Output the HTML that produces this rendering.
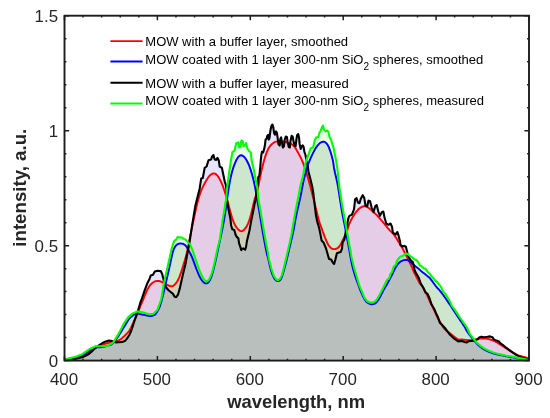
<!DOCTYPE html>
<html><head><meta charset="utf-8"><title>Spectra</title>
<style>html,body{margin:0;padding:0;background:#fff;}body{width:550px;height:418px;overflow:hidden;position:relative;}text{font-family:"Liberation Sans",Arial,Helvetica,sans-serif;}</style>
</head><body>
<svg width="550" height="418" viewBox="0 0 550 418" style="position:absolute;left:0;top:0">
<rect width="550" height="418" fill="#fff"/>
<path d="M64.0,359.7 L65.0,359.6 L66.0,359.5 L67.0,359.4 L68.0,359.3 L69.0,359.2 L70.0,359.1 L71.0,358.9 L72.0,358.7 L73.0,358.6 L74.0,358.4 L75.0,358.2 L76.0,357.9 L77.0,357.7 L78.0,357.4 L79.0,357.1 L80.0,356.8 L81.0,356.5 L82.0,356.2 L83.0,355.9 L84.0,355.5 L85.0,355.0 L86.0,354.5 L87.0,353.9 L88.0,353.3 L89.0,352.6 L90.0,351.8 L91.0,350.9 L92.0,350.0 L93.0,349.1 L94.0,348.4 L95.0,347.8 L96.0,347.3 L97.0,346.8 L98.0,346.3 L99.0,345.9 L100.0,345.5 L101.0,345.1 L102.0,344.7 L103.0,344.4 L104.0,344.1 L105.0,343.8 L106.0,343.5 L107.0,343.3 L108.0,343.0 L109.0,342.8 L110.0,342.6 L111.0,342.4 L112.0,342.2 L113.0,342.0 L114.0,341.8 L115.0,341.5 L116.0,341.3 L117.0,341.0 L118.0,340.6 L119.0,340.2 L120.0,339.7 L121.0,339.0 L122.0,338.2 L123.0,337.3 L124.0,336.4 L125.0,335.5 L126.0,334.5 L127.0,333.5 L128.0,332.3 L129.0,331.1 L130.0,329.5 L131.0,327.6 L132.0,325.4 L133.0,323.2 L134.0,321.0 L135.0,318.8 L136.0,316.6 L137.0,314.3 L138.0,311.9 L139.0,309.5 L140.0,307.1 L141.0,304.7 L142.0,302.3 L143.0,299.9 L144.0,297.5 L145.0,295.0 L146.0,292.7 L147.0,290.3 L148.0,288.4 L149.0,286.7 L150.0,285.3 L151.0,284.2 L152.0,283.2 L153.0,282.5 L154.0,281.9 L155.0,281.4 L156.0,281.1 L157.0,281.0 L158.0,281.0 L159.0,281.0 L160.0,281.3 L161.0,281.6 L162.0,282.1 L163.0,282.7 L164.0,283.3 L165.0,283.9 L166.0,284.4 L167.0,284.9 L168.0,285.3 L169.0,285.6 L170.0,286.0 L171.0,286.2 L172.0,286.3 L173.0,285.9 L174.0,285.3 L175.0,284.3 L176.0,283.2 L177.0,281.8 L178.0,280.0 L179.0,277.9 L180.0,275.4 L181.0,272.6 L182.0,269.6 L183.0,266.4 L184.0,263.1 L185.0,259.7 L186.0,256.1 L187.0,252.2 L188.0,247.6 L189.0,242.3 L190.0,237.0 L191.0,232.1 L192.0,227.3 L193.0,222.6 L194.0,218.0 L195.0,213.4 L196.0,208.9 L197.0,204.6 L198.0,200.6 L199.0,197.0 L200.0,193.9 L201.0,191.1 L202.0,188.7 L203.0,186.6 L204.0,184.6 L205.0,182.7 L206.0,180.9 L207.0,179.3 L208.0,177.8 L209.0,176.4 L210.0,175.3 L211.0,174.5 L212.0,173.9 L213.0,173.5 L214.0,173.4 L215.0,173.6 L216.0,174.2 L217.0,175.2 L218.0,176.4 L219.0,177.9 L220.0,179.7 L221.0,181.6 L222.0,184.0 L223.0,186.6 L224.0,189.5 L225.0,192.4 L226.0,195.6 L227.0,198.9 L228.0,202.7 L229.0,206.8 L230.0,210.6 L231.0,214.1 L232.0,217.5 L233.0,220.4 L234.0,222.8 L235.0,224.9 L236.0,226.6 L237.0,228.0 L238.0,229.2 L239.0,230.1 L240.0,230.8 L241.0,231.2 L242.0,231.1 L243.0,230.7 L244.0,229.8 L245.0,228.7 L246.0,227.4 L247.0,225.7 L248.0,223.6 L249.0,221.1 L250.0,218.1 L251.0,214.5 L252.0,210.5 L253.0,206.3 L254.0,201.7 L255.0,198.0 L256.0,195.8 L257.0,192.4 L258.0,187.8 L259.0,182.9 L260.0,177.8 L261.0,172.9 L262.0,168.4 L263.0,164.5 L264.0,160.7 L265.0,157.3 L266.0,154.3 L267.0,151.6 L268.0,149.4 L269.0,147.5 L270.0,146.1 L271.0,145.0 L272.0,144.0 L273.0,143.2 L274.0,142.5 L275.0,141.9 L276.0,141.6 L277.0,141.5 L278.0,141.4 L279.0,141.3 L280.0,141.3 L281.0,141.3 L282.0,141.4 L283.0,141.6 L284.0,141.8 L285.0,142.0 L286.0,142.2 L287.0,142.5 L288.0,142.8 L289.0,143.1 L290.0,143.5 L291.0,143.9 L292.0,144.5 L293.0,145.2 L294.0,146.2 L295.0,147.4 L296.0,148.9 L297.0,150.7 L298.0,152.5 L299.0,154.4 L300.0,156.3 L301.0,158.2 L302.0,160.3 L303.0,162.8 L304.0,165.5 L305.0,168.5 L306.0,171.5 L307.0,174.7 L308.0,178.0 L309.0,181.5 L310.0,185.2 L311.0,189.1 L312.0,192.9 L313.0,196.9 L314.0,200.8 L315.0,204.8 L316.0,208.9 L317.0,213.0 L318.0,217.0 L319.0,220.9 L320.0,223.9 L321.0,226.5 L322.0,229.2 L323.0,232.1 L324.0,234.8 L325.0,237.5 L326.0,239.9 L327.0,242.2 L328.0,244.2 L329.0,245.8 L330.0,247.0 L331.0,248.0 L332.0,248.6 L333.0,249.0 L334.0,249.1 L335.0,249.1 L336.0,248.8 L337.0,248.4 L338.0,247.7 L339.0,246.8 L340.0,245.5 L341.0,243.7 L342.0,241.7 L343.0,239.7 L344.0,237.7 L345.0,235.7 L346.0,233.8 L347.0,231.5 L348.0,227.8 L349.0,224.7 L350.0,222.4 L351.0,220.2 L352.0,218.3 L353.0,216.6 L354.0,215.0 L355.0,213.5 L356.0,212.2 L357.0,210.9 L358.0,209.8 L359.0,208.8 L360.0,207.9 L361.0,207.3 L362.0,206.8 L363.0,206.5 L364.0,206.3 L365.0,206.3 L366.0,206.5 L367.0,206.9 L368.0,207.5 L369.0,208.3 L370.0,209.0 L371.0,209.8 L372.0,210.7 L373.0,211.6 L374.0,212.5 L375.0,213.5 L376.0,214.4 L377.0,215.4 L378.0,216.5 L379.0,217.6 L380.0,218.7 L381.0,219.8 L382.0,221.0 L383.0,222.2 L384.0,223.4 L385.0,224.6 L386.0,225.9 L387.0,227.1 L388.0,228.4 L389.0,229.5 L390.0,230.6 L391.0,231.6 L392.0,232.5 L393.0,233.6 L394.0,234.7 L395.0,236.1 L396.0,237.6 L397.0,239.2 L398.0,240.9 L399.0,242.6 L400.0,244.3 L401.0,246.0 L402.0,247.6 L403.0,249.2 L404.0,251.3 L405.0,253.2 L406.0,255.1 L407.0,257.1 L408.0,259.1 L409.0,261.1 L410.0,263.2 L411.0,265.2 L412.0,267.2 L413.0,269.9 L414.0,272.2 L415.0,274.0 L416.0,276.0 L417.0,278.0 L418.0,280.0 L419.0,282.1 L420.0,283.7 L421.0,284.6 L422.0,285.6 L423.0,287.2 L424.0,289.1 L425.0,291.0 L426.0,293.0 L427.0,295.2 L428.0,297.4 L429.0,299.6 L430.0,301.8 L431.0,303.8 L432.0,305.8 L433.0,307.8 L434.0,309.8 L435.0,312.0 L436.0,314.3 L437.0,316.5 L438.0,318.5 L439.0,320.2 L440.0,321.8 L441.0,323.4 L442.0,325.1 L443.0,327.0 L444.0,328.4 L445.0,329.5 L446.0,330.4 L447.0,331.2 L448.0,331.9 L449.0,332.6 L450.0,333.3 L451.0,334.1 L452.0,334.9 L453.0,335.8 L454.0,336.6 L455.0,337.4 L456.0,338.1 L457.0,338.8 L458.0,339.3 L459.0,339.6 L460.0,339.6 L461.0,339.4 L462.0,339.4 L463.0,339.6 L464.0,339.7 L465.0,339.9 L466.0,340.0 L467.0,340.1 L468.0,340.2 L469.0,340.3 L470.0,340.3 L471.0,340.3 L472.0,340.2 L473.0,340.1 L474.0,339.9 L475.0,339.6 L476.0,339.3 L477.0,339.1 L478.0,338.9 L479.0,338.7 L480.0,338.6 L481.0,338.5 L482.0,338.5 L483.0,338.4 L484.0,338.5 L485.0,338.5 L486.0,338.6 L487.0,338.7 L488.0,338.9 L489.0,339.1 L490.0,339.4 L491.0,339.7 L492.0,340.1 L493.0,340.5 L494.0,341.0 L495.0,341.5 L496.0,342.0 L497.0,342.5 L498.0,343.1 L499.0,343.7 L500.0,344.4 L501.0,345.0 L502.0,345.7 L503.0,346.3 L504.0,347.0 L505.0,347.7 L506.0,348.3 L507.0,349.0 L508.0,349.6 L509.0,350.3 L510.0,350.9 L511.0,351.4 L512.0,352.0 L513.0,352.6 L514.0,353.2 L515.0,353.7 L516.0,354.3 L517.0,354.8 L518.0,355.2 L519.0,355.6 L520.0,355.9 L521.0,356.2 L522.0,356.5 L523.0,356.8 L524.0,357.0 L525.0,357.3 L526.0,357.6 L527.0,357.8 L528.0,358.2 L528.8,358.5 L528.8,360.6 L64.0,360.6 Z" fill="#ff0000" fill-opacity="0.1"/>
<path d="M64.0,359.7 L65.0,359.5 L66.0,359.4 L67.0,359.2 L68.0,359.0 L69.0,358.8 L70.0,358.6 L71.0,358.4 L72.0,358.1 L73.0,357.9 L74.0,357.7 L75.0,357.5 L76.0,357.2 L77.0,357.0 L78.0,356.7 L79.0,356.4 L80.0,356.1 L81.0,355.7 L82.0,355.3 L83.0,354.9 L84.0,354.3 L85.0,353.7 L86.0,353.0 L87.0,352.3 L88.0,351.6 L89.0,350.9 L90.0,350.3 L91.0,349.8 L92.0,349.2 L93.0,348.7 L94.0,348.2 L95.0,347.8 L96.0,347.5 L97.0,347.4 L98.0,347.3 L99.0,347.3 L100.0,347.4 L101.0,347.3 L102.0,347.1 L103.0,346.9 L104.0,346.7 L105.0,346.4 L106.0,346.2 L107.0,345.9 L108.0,345.7 L109.0,345.4 L110.0,345.0 L111.0,344.6 L112.0,343.9 L113.0,343.0 L114.0,341.9 L115.0,340.7 L116.0,339.4 L117.0,338.0 L118.0,336.6 L119.0,335.1 L120.0,333.5 L121.0,331.9 L122.0,330.3 L123.0,328.6 L124.0,327.0 L125.0,325.4 L126.0,323.7 L127.0,322.1 L128.0,320.5 L129.0,319.0 L130.0,317.8 L131.0,316.9 L132.0,316.1 L133.0,315.4 L134.0,314.7 L135.0,314.1 L136.0,313.7 L137.0,313.6 L138.0,313.7 L139.0,313.9 L140.0,314.1 L141.0,314.3 L142.0,314.5 L143.0,314.7 L144.0,314.9 L145.0,315.1 L146.0,315.3 L147.0,315.5 L148.0,315.7 L149.0,315.8 L150.0,316.0 L151.0,316.0 L152.0,315.9 L153.0,315.6 L154.0,315.2 L155.0,314.6 L156.0,313.5 L157.0,312.0 L158.0,310.3 L159.0,308.3 L160.0,305.8 L161.0,302.8 L162.0,299.1 L163.0,294.9 L164.0,290.7 L165.0,286.5 L166.0,282.2 L167.0,277.9 L168.0,273.5 L169.0,269.1 L170.0,264.4 L171.0,259.7 L172.0,255.3 L173.0,251.3 L174.0,248.6 L175.0,246.9 L176.0,245.5 L177.0,244.6 L178.0,244.0 L179.0,243.6 L180.0,243.5 L181.0,243.5 L182.0,243.6 L183.0,243.8 L184.0,244.3 L185.0,244.9 L186.0,246.0 L187.0,247.5 L188.0,249.2 L189.0,251.1 L190.0,253.0 L191.0,255.0 L192.0,257.2 L193.0,259.7 L194.0,262.3 L195.0,265.1 L196.0,267.9 L197.0,270.5 L198.0,273.0 L199.0,275.2 L200.0,277.2 L201.0,279.0 L202.0,280.5 L203.0,281.7 L204.0,282.6 L205.0,283.2 L206.0,283.4 L207.0,283.3 L208.0,282.7 L209.0,281.6 L210.0,279.9 L211.0,277.6 L212.0,274.8 L213.0,271.4 L214.0,267.4 L215.0,263.2 L216.0,258.9 L217.0,254.2 L218.0,249.4 L219.0,244.7 L220.0,240.0 L221.0,235.2 L222.0,230.3 L223.0,225.4 L224.0,220.2 L225.0,214.1 L226.0,207.0 L227.0,199.3 L228.0,192.6 L229.0,186.4 L230.0,180.9 L231.0,176.1 L232.0,172.0 L233.0,168.5 L234.0,165.6 L235.0,163.1 L236.0,160.8 L237.0,158.9 L238.0,157.3 L239.0,156.2 L240.0,155.5 L241.0,155.3 L242.0,155.5 L243.0,155.9 L244.0,156.7 L245.0,157.8 L246.0,159.2 L247.0,161.0 L248.0,163.0 L249.0,165.2 L250.0,167.9 L251.0,170.9 L252.0,174.2 L253.0,177.9 L254.0,182.1 L255.0,186.9 L256.0,192.3 L257.0,198.8 L258.0,204.3 L259.0,209.6 L260.0,215.6 L261.0,221.6 L262.0,227.7 L263.0,233.7 L264.0,239.2 L265.0,244.4 L266.0,249.5 L267.0,254.2 L268.0,257.9 L269.0,262.1 L270.0,266.5 L271.0,270.3 L272.0,273.4 L273.0,275.9 L274.0,277.9 L275.0,279.4 L276.0,280.4 L277.0,280.9 L278.0,281.1 L279.0,280.9 L280.0,280.2 L281.0,278.9 L282.0,276.7 L283.0,273.5 L284.0,270.0 L285.0,266.2 L286.0,262.4 L287.0,258.4 L288.0,254.1 L289.0,249.9 L290.0,245.6 L291.0,241.4 L292.0,237.1 L293.0,232.7 L294.0,227.5 L295.0,221.9 L296.0,216.5 L297.0,211.7 L298.0,207.4 L299.0,203.1 L300.0,198.8 L301.0,194.0 L302.0,188.6 L303.0,183.6 L304.0,179.1 L305.0,174.9 L306.0,171.1 L307.0,167.7 L308.0,164.7 L309.0,162.0 L310.0,159.6 L311.0,157.3 L312.0,155.2 L313.0,153.1 L314.0,151.1 L315.0,149.3 L316.0,147.6 L317.0,146.2 L318.0,145.0 L319.0,143.9 L320.0,143.0 L321.0,142.4 L322.0,141.9 L323.0,141.7 L324.0,141.7 L325.0,142.1 L326.0,142.9 L327.0,144.0 L328.0,145.5 L329.0,147.6 L330.0,150.3 L331.0,153.5 L332.0,156.9 L333.0,161.0 L334.0,167.7 L335.0,172.8 L336.0,176.9 L337.0,181.2 L338.0,186.6 L339.0,192.9 L340.0,199.4 L341.0,205.6 L342.0,211.6 L343.0,217.1 L344.0,222.1 L345.0,226.9 L346.0,232.2 L347.0,237.6 L348.0,243.0 L349.0,248.6 L350.0,254.2 L351.0,259.7 L352.0,264.5 L353.0,268.7 L354.0,272.3 L355.0,275.5 L356.0,278.5 L357.0,281.3 L358.0,284.0 L359.0,286.7 L360.0,289.3 L361.0,291.8 L362.0,294.1 L363.0,296.3 L364.0,298.2 L365.0,299.9 L366.0,301.2 L367.0,302.2 L368.0,302.9 L369.0,303.5 L370.0,303.9 L371.0,304.2 L372.0,304.2 L373.0,304.1 L374.0,303.9 L375.0,303.5 L376.0,302.8 L377.0,301.7 L378.0,300.4 L379.0,298.8 L380.0,297.0 L381.0,295.0 L382.0,293.0 L383.0,291.0 L384.0,289.2 L385.0,287.6 L386.0,286.0 L387.0,284.3 L388.0,282.4 L389.0,280.5 L390.0,278.6 L391.0,276.7 L392.0,274.7 L393.0,272.7 L394.0,270.5 L395.0,268.5 L396.0,266.8 L397.0,265.2 L398.0,263.9 L399.0,262.8 L400.0,262.0 L401.0,261.3 L402.0,260.8 L403.0,260.4 L404.0,260.1 L405.0,259.9 L406.0,259.9 L407.0,260.0 L408.0,260.3 L409.0,260.8 L410.0,261.7 L411.0,262.5 L412.0,263.4 L413.0,264.2 L414.0,265.1 L415.0,265.9 L416.0,266.7 L417.0,267.5 L418.0,268.3 L419.0,269.1 L420.0,270.0 L421.0,270.9 L422.0,271.7 L423.0,272.6 L424.0,273.3 L425.0,274.1 L426.0,274.9 L427.0,275.8 L428.0,276.6 L429.0,277.3 L430.0,278.2 L431.0,279.6 L432.0,280.9 L433.0,282.3 L434.0,283.7 L435.0,285.0 L436.0,286.3 L437.0,287.5 L438.0,288.6 L439.0,289.7 L440.0,290.8 L441.0,292.1 L442.0,293.4 L443.0,294.7 L444.0,296.1 L445.0,297.5 L446.0,298.9 L447.0,300.4 L448.0,301.9 L449.0,303.4 L450.0,304.8 L451.0,306.3 L452.0,307.9 L453.0,309.4 L454.0,310.9 L455.0,312.4 L456.0,313.9 L457.0,315.4 L458.0,316.9 L459.0,318.4 L460.0,319.9 L461.0,321.4 L462.0,322.8 L463.0,324.4 L464.0,325.9 L465.0,327.4 L466.0,329.5 L467.0,331.2 L468.0,332.7 L469.0,334.1 L470.0,335.4 L471.0,336.6 L472.0,337.9 L473.0,339.1 L474.0,340.3 L475.0,341.5 L476.0,342.6 L477.0,343.8 L478.0,344.8 L479.0,345.7 L480.0,346.6 L481.0,347.3 L482.0,348.1 L483.0,348.7 L484.0,349.4 L485.0,350.0 L486.0,350.5 L487.0,351.0 L488.0,351.4 L489.0,351.8 L490.0,352.2 L491.0,352.6 L492.0,353.0 L493.0,353.3 L494.0,353.6 L495.0,353.8 L496.0,354.0 L497.0,354.3 L498.0,354.5 L499.0,354.7 L500.0,355.0 L501.0,355.2 L502.0,355.4 L503.0,355.6 L504.0,355.8 L505.0,356.0 L506.0,356.2 L507.0,356.4 L508.0,356.6 L509.0,356.7 L510.0,356.9 L511.0,357.1 L512.0,357.2 L513.0,357.4 L514.0,357.6 L515.0,357.8 L516.0,358.0 L517.0,358.2 L518.0,358.4 L519.0,358.6 L520.0,358.7 L521.0,358.9 L522.0,359.0 L523.0,359.2 L524.0,359.3 L525.0,359.5 L526.0,359.7 L527.0,359.8 L528.0,360.0 L528.8,360.1 L528.8,360.6 L64.0,360.6 Z" fill="#000000" fill-opacity="0.1"/>
<path d="M64.0,359.8 L75.0,359.0 L82.3,357.3 L85.0,356.1 L88.3,354.4 L91.5,351.7 L94.8,348.4 L97.0,346.8 L99.2,345.2 L102.4,343.0 L105.7,341.4 L109.0,340.6 L112.3,341.1 L115.5,342.4 L118.8,342.3 L122.1,341.9 L124.8,341.1 L127.0,338.6 L129.2,335.2 L131.3,330.5 L133.0,325.4 L134.6,320.5 L137.2,313.4 L140.4,302.5 L141.6,299.5 L144.4,291.1 L147.1,283.8 L149.4,279.3 L150.7,275.6 L153.0,274.7 L154.8,271.5 L157.5,270.8 L160.7,271.1 L162.1,273.8 L163.5,279.3 L164.4,283.8 L166.2,287.5 L168.5,290.2 L170.7,292.0 L173.0,293.8 L174.4,296.5 L176.2,297.2 L178.0,294.7 L179.8,288.4 L181.6,280.2 L183.5,272.0 L185.3,264.7 L187.1,255.0 L189.2,244.3 L192.3,224.2 L195.3,206.1 L198.3,194.0 L199.6,188.9 L201.2,178.6 L202.8,178.0 L204.7,167.8 L206.6,166.5 L208.5,160.2 L211.1,159.5 L212.1,156.4 L213.4,155.1 L214.7,159.5 L216.2,159.9 L217.5,157.9 L218.7,160.2 L219.7,166.5 L221.9,167.8 L223.2,174.2 L224.8,181.8 L225.7,184.4 L226.4,188.9 L226.9,200.0 L227.9,206.4 L229.2,212.7 L230.5,219.1 L231.1,225.5 L232.4,229.3 L234.3,229.9 L235.5,234.4 L236.8,236.9 L238.3,238.2 L239.1,243.3 L240.4,247.1 L241.3,250.3 L241.9,249.0 L243.2,248.4 L245.1,249.6 L246.0,247.1 L247.0,240.7 L248.3,235.6 L249.5,230.5 L250.8,222.9 L252.1,216.5 L253.4,210.2 L254.6,203.8 L255.6,200.0 L257.2,188.2 L258.2,177.4 L259.4,175.5 L260.3,166.5 L260.8,160.0 L261.4,154.7 L262.0,151.8 L263.1,152.5 L264.2,148.9 L264.9,145.3 L265.6,139.5 L266.6,138.7 L267.3,135.8 L268.1,134.8 L268.8,139.6 L269.5,138.0 L270.1,133.0 L270.6,129.5 L271.4,125.9 L272.5,124.5 L273.3,127.4 L274.1,133.2 L275.0,134.6 L276.1,131.4 L276.9,132.8 L277.7,138.3 L278.5,144.3 L279.7,145.6 L280.4,138.7 L281.1,137.4 L281.8,141.7 L282.9,147.5 L284.0,146.1 L284.7,139.5 L285.8,136.6 L286.9,137.0 L287.6,141.7 L288.7,146.8 L289.8,147.5 L290.5,141.0 L291.6,135.9 L292.7,136.6 L293.5,141.0 L294.5,145.4 L295.6,146.1 L296.4,139.5 L297.1,135.2 L298.2,134.1 L299.1,138.1 L299.6,143.9 L300.7,149.0 L301.8,146.1 L302.7,145.4 L303.6,146.8 L304.4,151.9 L305.5,155.0 L306.7,162.3 L307.4,164.9 L307.9,167.0 L308.4,171.4 L310.4,179.0 L312.4,187.5 L313.4,194.0 L315.9,215.0 L317.2,221.4 L319.1,227.7 L320.4,234.1 L321.6,240.5 L323.5,242.4 L324.8,245.5 L326.1,248.7 L327.4,253.2 L329.0,258.9 L331.2,259.5 L332.5,262.1 L334.1,264.0 L335.4,259.5 L336.9,253.2 L338.8,252.5 L340.7,251.9 L342.0,248.7 L342.6,242.4 L344.5,239.2 L345.8,231.5 L347.1,227.7 L347.7,221.4 L348.6,217.5 L349.4,215.9 L351.9,214.6 L353.2,211.5 L354.1,208.9 L355.1,199.4 L356.6,198.1 L357.9,202.5 L359.5,203.2 L360.8,198.7 L362.7,195.2 L364.3,198.1 L365.5,205.7 L367.2,206.4 L368.5,200.6 L370.1,201.3 L371.6,207.6 L373.5,212.1 L375.2,206.4 L376.7,205.1 L378.3,211.5 L379.9,215.9 L381.8,212.1 L383.3,211.5 L384.6,217.8 L386.3,223.5 L388.4,224.8 L390.5,223.5 L392.0,226.7 L392.9,232.6 L395.5,234.5 L397.4,232.0 L398.6,235.8 L399.9,240.9 L400.5,245.0 L402.3,246.4 L404.1,245.9 L405.9,246.8 L406.8,250.5 L407.7,254.1 L409.1,257.7 L410.9,260.5 L412.7,261.8 L413.6,265.0 L414.5,269.5 L415.9,273.2 L417.7,275.9 L419.1,278.6 L420.5,283.0 L421.5,284.9 L423.3,287.7 L425.2,292.2 L427.7,294.1 L429.6,298.5 L431.5,304.3 L434.1,308.7 L436.0,313.2 L437.9,317.0 L439.8,322.7 L442.4,325.3 L444.9,327.9 L450.0,334.8 L454.0,338.5 L458.2,341.4 L462.0,341.0 L464.5,341.9 L466.5,342.5 L468.4,341.3 L470.9,341.0 L474.7,340.6 L477.3,339.4 L479.2,337.5 L481.1,336.8 L484.3,337.2 L487.5,336.8 L490.0,336.4 L492.5,337.2 L493.8,339.4 L496.4,340.6 L498.9,341.5 L500.2,343.2 L502.7,344.8 L505.3,347.0 L507.8,348.9 L510.4,350.8 L512.9,352.7 L515.5,354.3 L518.0,355.9 L520.5,357.2 L523.1,358.1 L525.6,358.8 L528.8,359.3 L528.8,360.6 L64.0,360.6 Z" fill="#0000ff" fill-opacity="0.1"/>
<path d="M64.0,359.6 L74.8,357.1 L82.3,354.2 L89.7,349.0 L95.6,346.3 L101.5,346.3 L107.5,346.0 L113.4,342.3 L119.3,332.6 L123.8,323.7 L128.3,317.1 L132.7,313.4 L137.4,311.4 L144.8,312.9 L150.0,314.4 L153.5,313.8 L157.4,309.9 L161.2,299.5 L164.4,280.9 L166.9,270.0 L169.5,258.5 L171.4,249.6 L173.3,243.3 L174.5,240.7 L176.1,239.7 L177.7,236.9 L179.6,237.5 L181.5,237.2 L183.5,238.8 L185.4,239.5 L187.4,241.6 L190.3,244.8 L192.6,250.3 L194.9,257.2 L197.2,264.1 L199.5,270.5 L201.8,275.6 L204.1,279.7 L206.4,281.6 L208.7,280.2 L211.0,275.6 L212.8,269.9 L214.5,263.0 L216.2,254.9 L217.9,246.9 L219.7,240.0 L221.0,231.8 L222.2,222.9 L224.1,211.5 L226.0,200.0 L227.0,188.9 L228.9,174.2 L230.8,161.5 L232.5,151.9 L234.6,150.6 L236.3,143.0 L238.5,142.4 L239.3,147.5 L240.4,146.8 L241.4,140.5 L242.7,141.1 L243.5,146.2 L244.8,145.5 L246.1,143.0 L247.4,148.7 L249.3,151.3 L250.8,152.5 L251.8,161.5 L253.7,169.1 L255.6,179.3 L257.5,188.9 L258.5,200.0 L260.4,210.2 L262.3,221.6 L264.2,233.1 L266.1,243.3 L268.0,252.9 L268.7,257.9 L271.2,268.1 L273.7,275.7 L276.2,279.5 L278.1,280.2 L280.0,278.9 L281.9,275.1 L283.8,268.1 L285.9,259.2 L288.0,250.3 L290.0,241.4 L291.4,235.0 L294.8,215.0 L298.5,196.0 L300.6,185.0 L303.3,174.4 L304.3,168.9 L306.2,160.5 L308.7,154.2 L310.6,148.5 L313.2,147.2 L314.8,140.2 L316.1,137.6 L318.3,137.0 L319.5,132.5 L320.8,130.6 L322.1,126.8 L323.0,125.5 L324.0,130.0 L325.5,131.3 L327.2,130.6 L328.5,131.9 L329.3,136.4 L331.0,139.5 L332.3,144.0 L333.5,147.8 L334.8,154.2 L336.1,160.5 L337.4,168.9 L339.2,186.0 L341.7,202.5 L343.9,215.0 L346.5,229.0 L349.0,243.0 L351.5,257.0 L354.1,267.9 L358.9,284.3 L364.6,298.0 L367.5,301.6 L370.8,302.8 L373.6,302.4 L376.0,300.8 L379.4,295.3 L382.9,288.4 L385.5,283.0 L387.3,279.5 L389.1,278.6 L390.5,274.1 L392.3,271.4 L393.6,266.8 L395.9,264.5 L396.8,261.4 L398.6,258.6 L400.5,256.4 L402.7,255.9 L404.5,254.5 L406.8,253.6 L409.1,255.0 L410.9,256.8 L412.7,257.7 L414.5,259.5 L416.4,260.0 L418.2,262.3 L420.0,265.5 L421.8,266.4 L423.6,268.2 L425.5,268.6 L427.3,271.4 L430.0,274.1 L431.7,276.5 L433.6,278.5 L435.5,281.0 L437.5,282.3 L441.1,287.1 L443.0,291.5 L445.5,294.1 L448.1,298.5 L450.0,301.7 L451.9,306.2 L454.5,309.4 L457.0,313.2 L459.5,317.0 L462.7,321.5 L467.2,327.9 L469.6,333.6 L473.5,338.7 L477.3,343.2 L481.1,346.4 L484.9,348.9 L488.7,350.8 L493.8,352.7 L500.2,354.4 L506.5,355.7 L512.9,356.8 L519.3,358.1 L525.6,359.3 L528.8,360.0 L528.8,360.6 L64.0,360.6 Z" fill="#00ff00" fill-opacity="0.1"/>
<path d="M64.0,359.7 L65.0,359.6 L66.0,359.5 L67.0,359.4 L68.0,359.3 L69.0,359.2 L70.0,359.1 L71.0,358.9 L72.0,358.7 L73.0,358.6 L74.0,358.4 L75.0,358.2 L76.0,357.9 L77.0,357.7 L78.0,357.4 L79.0,357.1 L80.0,356.8 L81.0,356.5 L82.0,356.2 L83.0,355.9 L84.0,355.5 L85.0,355.0 L86.0,354.5 L87.0,353.9 L88.0,353.3 L89.0,352.6 L90.0,351.8 L91.0,350.9 L92.0,350.0 L93.0,349.1 L94.0,348.4 L95.0,347.8 L96.0,347.3 L97.0,346.8 L98.0,346.3 L99.0,345.9 L100.0,345.5 L101.0,345.1 L102.0,344.7 L103.0,344.4 L104.0,344.1 L105.0,343.8 L106.0,343.5 L107.0,343.3 L108.0,343.0 L109.0,342.8 L110.0,342.6 L111.0,342.4 L112.0,342.2 L113.0,342.0 L114.0,341.8 L115.0,341.5 L116.0,341.3 L117.0,341.0 L118.0,340.6 L119.0,340.2 L120.0,339.7 L121.0,339.0 L122.0,338.2 L123.0,337.3 L124.0,336.4 L125.0,335.5 L126.0,334.5 L127.0,333.5 L128.0,332.3 L129.0,331.1 L130.0,329.5 L131.0,327.6 L132.0,325.4 L133.0,323.2 L134.0,321.0 L135.0,318.8 L136.0,316.6 L137.0,314.3 L138.0,311.9 L139.0,309.5 L140.0,307.1 L141.0,304.7 L142.0,302.3 L143.0,299.9 L144.0,297.5 L145.0,295.0 L146.0,292.7 L147.0,290.3 L148.0,288.4 L149.0,286.7 L150.0,285.3 L151.0,284.2 L152.0,283.2 L153.0,282.5 L154.0,281.9 L155.0,281.4 L156.0,281.1 L157.0,281.0 L158.0,281.0 L159.0,281.0 L160.0,281.3 L161.0,281.6 L162.0,282.1 L163.0,282.7 L164.0,283.3 L165.0,283.9 L166.0,284.4 L167.0,284.9 L168.0,285.3 L169.0,285.6 L170.0,286.0 L171.0,286.2 L172.0,286.3 L173.0,285.9 L174.0,285.3 L175.0,284.3 L176.0,283.2 L177.0,281.8 L178.0,280.0 L179.0,277.9 L180.0,275.4 L181.0,272.6 L182.0,269.6 L183.0,266.4 L184.0,263.1 L185.0,259.7 L186.0,256.1 L187.0,252.2 L188.0,247.6 L189.0,242.3 L190.0,237.0 L191.0,232.1 L192.0,227.3 L193.0,222.6 L194.0,218.0 L195.0,213.4 L196.0,208.9 L197.0,204.6 L198.0,200.6 L199.0,197.0 L200.0,193.9 L201.0,191.1 L202.0,188.7 L203.0,186.6 L204.0,184.6 L205.0,182.7 L206.0,180.9 L207.0,179.3 L208.0,177.8 L209.0,176.4 L210.0,175.3 L211.0,174.5 L212.0,173.9 L213.0,173.5 L214.0,173.4 L215.0,173.6 L216.0,174.2 L217.0,175.2 L218.0,176.4 L219.0,177.9 L220.0,179.7 L221.0,181.6 L222.0,184.0 L223.0,186.6 L224.0,189.5 L225.0,192.4 L226.0,195.6 L227.0,198.9 L228.0,202.7 L229.0,206.8 L230.0,210.6 L231.0,214.1 L232.0,217.5 L233.0,220.4 L234.0,222.8 L235.0,224.9 L236.0,226.6 L237.0,228.0 L238.0,229.2 L239.0,230.1 L240.0,230.8 L241.0,231.2 L242.0,231.1 L243.0,230.7 L244.0,229.8 L245.0,228.7 L246.0,227.4 L247.0,225.7 L248.0,223.6 L249.0,221.1 L250.0,218.1 L251.0,214.5 L252.0,210.5 L253.0,206.3 L254.0,201.7 L255.0,198.0 L256.0,195.8 L257.0,192.4 L258.0,187.8 L259.0,182.9 L260.0,177.8 L261.0,172.9 L262.0,168.4 L263.0,164.5 L264.0,160.7 L265.0,157.3 L266.0,154.3 L267.0,151.6 L268.0,149.4 L269.0,147.5 L270.0,146.1 L271.0,145.0 L272.0,144.0 L273.0,143.2 L274.0,142.5 L275.0,141.9 L276.0,141.6 L277.0,141.5 L278.0,141.4 L279.0,141.3 L280.0,141.3 L281.0,141.3 L282.0,141.4 L283.0,141.6 L284.0,141.8 L285.0,142.0 L286.0,142.2 L287.0,142.5 L288.0,142.8 L289.0,143.1 L290.0,143.5 L291.0,143.9 L292.0,144.5 L293.0,145.2 L294.0,146.2 L295.0,147.4 L296.0,148.9 L297.0,150.7 L298.0,152.5 L299.0,154.4 L300.0,156.3 L301.0,158.2 L302.0,160.3 L303.0,162.8 L304.0,165.5 L305.0,168.5 L306.0,171.5 L307.0,174.7 L308.0,178.0 L309.0,181.5 L310.0,185.2 L311.0,189.1 L312.0,192.9 L313.0,196.9 L314.0,200.8 L315.0,204.8 L316.0,208.9 L317.0,213.0 L318.0,217.0 L319.0,220.9 L320.0,223.9 L321.0,226.5 L322.0,229.2 L323.0,232.1 L324.0,234.8 L325.0,237.5 L326.0,239.9 L327.0,242.2 L328.0,244.2 L329.0,245.8 L330.0,247.0 L331.0,248.0 L332.0,248.6 L333.0,249.0 L334.0,249.1 L335.0,249.1 L336.0,248.8 L337.0,248.4 L338.0,247.7 L339.0,246.8 L340.0,245.5 L341.0,243.7 L342.0,241.7 L343.0,239.7 L344.0,237.7 L345.0,235.7 L346.0,233.8 L347.0,231.5 L348.0,227.8 L349.0,224.7 L350.0,222.4 L351.0,220.2 L352.0,218.3 L353.0,216.6 L354.0,215.0 L355.0,213.5 L356.0,212.2 L357.0,210.9 L358.0,209.8 L359.0,208.8 L360.0,207.9 L361.0,207.3 L362.0,206.8 L363.0,206.5 L364.0,206.3 L365.0,206.3 L366.0,206.5 L367.0,206.9 L368.0,207.5 L369.0,208.3 L370.0,209.0 L371.0,209.8 L372.0,210.7 L373.0,211.6 L374.0,212.5 L375.0,213.5 L376.0,214.4 L377.0,215.4 L378.0,216.5 L379.0,217.6 L380.0,218.7 L381.0,219.8 L382.0,221.0 L383.0,222.2 L384.0,223.4 L385.0,224.6 L386.0,225.9 L387.0,227.1 L388.0,228.4 L389.0,229.5 L390.0,230.6 L391.0,231.6 L392.0,232.5 L393.0,233.6 L394.0,234.7 L395.0,236.1 L396.0,237.6 L397.0,239.2 L398.0,240.9 L399.0,242.6 L400.0,244.3 L401.0,246.0 L402.0,247.6 L403.0,249.2 L404.0,251.3 L405.0,253.2 L406.0,255.1 L407.0,257.1 L408.0,259.1 L409.0,261.1 L410.0,263.2 L411.0,265.2 L412.0,267.2 L413.0,269.9 L414.0,272.2 L415.0,274.0 L416.0,276.0 L417.0,278.0 L418.0,280.0 L419.0,282.1 L420.0,283.7 L421.0,284.6 L422.0,285.6 L423.0,287.2 L424.0,289.1 L425.0,291.0 L426.0,293.0 L427.0,295.2 L428.0,297.4 L429.0,299.6 L430.0,301.8 L431.0,303.8 L432.0,305.8 L433.0,307.8 L434.0,309.8 L435.0,312.0 L436.0,314.3 L437.0,316.5 L438.0,318.5 L439.0,320.2 L440.0,321.8 L441.0,323.4 L442.0,325.1 L443.0,327.0 L444.0,328.4 L445.0,329.5 L446.0,330.4 L447.0,331.2 L448.0,331.9 L449.0,332.6 L450.0,333.3 L451.0,334.1 L452.0,334.9 L453.0,335.8 L454.0,336.6 L455.0,337.4 L456.0,338.1 L457.0,338.8 L458.0,339.3 L459.0,339.6 L460.0,339.6 L461.0,339.4 L462.0,339.4 L463.0,339.6 L464.0,339.7 L465.0,339.9 L466.0,340.0 L467.0,340.1 L468.0,340.2 L469.0,340.3 L470.0,340.3 L471.0,340.3 L472.0,340.2 L473.0,340.1 L474.0,339.9 L475.0,339.6 L476.0,339.3 L477.0,339.1 L478.0,338.9 L479.0,338.7 L480.0,338.6 L481.0,338.5 L482.0,338.5 L483.0,338.4 L484.0,338.5 L485.0,338.5 L486.0,338.6 L487.0,338.7 L488.0,338.9 L489.0,339.1 L490.0,339.4 L491.0,339.7 L492.0,340.1 L493.0,340.5 L494.0,341.0 L495.0,341.5 L496.0,342.0 L497.0,342.5 L498.0,343.1 L499.0,343.7 L500.0,344.4 L501.0,345.0 L502.0,345.7 L503.0,346.3 L504.0,347.0 L505.0,347.7 L506.0,348.3 L507.0,349.0 L508.0,349.6 L509.0,350.3 L510.0,350.9 L511.0,351.4 L512.0,352.0 L513.0,352.6 L514.0,353.2 L515.0,353.7 L516.0,354.3 L517.0,354.8 L518.0,355.2 L519.0,355.6 L520.0,355.9 L521.0,356.2 L522.0,356.5 L523.0,356.8 L524.0,357.0 L525.0,357.3 L526.0,357.6 L527.0,357.8 L528.0,358.2 L528.8,358.5" fill="none" stroke="#ff0000" stroke-width="1.95" stroke-linejoin="round"/>
<path d="M64.0,359.7 L65.0,359.5 L66.0,359.4 L67.0,359.2 L68.0,359.0 L69.0,358.8 L70.0,358.6 L71.0,358.4 L72.0,358.1 L73.0,357.9 L74.0,357.7 L75.0,357.5 L76.0,357.2 L77.0,357.0 L78.0,356.7 L79.0,356.4 L80.0,356.1 L81.0,355.7 L82.0,355.3 L83.0,354.9 L84.0,354.3 L85.0,353.7 L86.0,353.0 L87.0,352.3 L88.0,351.6 L89.0,350.9 L90.0,350.3 L91.0,349.8 L92.0,349.2 L93.0,348.7 L94.0,348.2 L95.0,347.8 L96.0,347.5 L97.0,347.4 L98.0,347.3 L99.0,347.3 L100.0,347.4 L101.0,347.3 L102.0,347.1 L103.0,346.9 L104.0,346.7 L105.0,346.4 L106.0,346.2 L107.0,345.9 L108.0,345.7 L109.0,345.4 L110.0,345.0 L111.0,344.6 L112.0,343.9 L113.0,343.0 L114.0,341.9 L115.0,340.7 L116.0,339.4 L117.0,338.0 L118.0,336.6 L119.0,335.1 L120.0,333.5 L121.0,331.9 L122.0,330.3 L123.0,328.6 L124.0,327.0 L125.0,325.4 L126.0,323.7 L127.0,322.1 L128.0,320.5 L129.0,319.0 L130.0,317.8 L131.0,316.9 L132.0,316.1 L133.0,315.4 L134.0,314.7 L135.0,314.1 L136.0,313.7 L137.0,313.6 L138.0,313.7 L139.0,313.9 L140.0,314.1 L141.0,314.3 L142.0,314.5 L143.0,314.7 L144.0,314.9 L145.0,315.1 L146.0,315.3 L147.0,315.5 L148.0,315.7 L149.0,315.8 L150.0,316.0 L151.0,316.0 L152.0,315.9 L153.0,315.6 L154.0,315.2 L155.0,314.6 L156.0,313.5 L157.0,312.0 L158.0,310.3 L159.0,308.3 L160.0,305.8 L161.0,302.8 L162.0,299.1 L163.0,294.9 L164.0,290.7 L165.0,286.5 L166.0,282.2 L167.0,277.9 L168.0,273.5 L169.0,269.1 L170.0,264.4 L171.0,259.7 L172.0,255.3 L173.0,251.3 L174.0,248.6 L175.0,246.9 L176.0,245.5 L177.0,244.6 L178.0,244.0 L179.0,243.6 L180.0,243.5 L181.0,243.5 L182.0,243.6 L183.0,243.8 L184.0,244.3 L185.0,244.9 L186.0,246.0 L187.0,247.5 L188.0,249.2 L189.0,251.1 L190.0,253.0 L191.0,255.0 L192.0,257.2 L193.0,259.7 L194.0,262.3 L195.0,265.1 L196.0,267.9 L197.0,270.5 L198.0,273.0 L199.0,275.2 L200.0,277.2 L201.0,279.0 L202.0,280.5 L203.0,281.7 L204.0,282.6 L205.0,283.2 L206.0,283.4 L207.0,283.3 L208.0,282.7 L209.0,281.6 L210.0,279.9 L211.0,277.6 L212.0,274.8 L213.0,271.4 L214.0,267.4 L215.0,263.2 L216.0,258.9 L217.0,254.2 L218.0,249.4 L219.0,244.7 L220.0,240.0 L221.0,235.2 L222.0,230.3 L223.0,225.4 L224.0,220.2 L225.0,214.1 L226.0,207.0 L227.0,199.3 L228.0,192.6 L229.0,186.4 L230.0,180.9 L231.0,176.1 L232.0,172.0 L233.0,168.5 L234.0,165.6 L235.0,163.1 L236.0,160.8 L237.0,158.9 L238.0,157.3 L239.0,156.2 L240.0,155.5 L241.0,155.3 L242.0,155.5 L243.0,155.9 L244.0,156.7 L245.0,157.8 L246.0,159.2 L247.0,161.0 L248.0,163.0 L249.0,165.2 L250.0,167.9 L251.0,170.9 L252.0,174.2 L253.0,177.9 L254.0,182.1 L255.0,186.9 L256.0,192.3 L257.0,198.8 L258.0,204.3 L259.0,209.6 L260.0,215.6 L261.0,221.6 L262.0,227.7 L263.0,233.7 L264.0,239.2 L265.0,244.4 L266.0,249.5 L267.0,254.2 L268.0,257.9 L269.0,262.1 L270.0,266.5 L271.0,270.3 L272.0,273.4 L273.0,275.9 L274.0,277.9 L275.0,279.4 L276.0,280.4 L277.0,280.9 L278.0,281.1 L279.0,280.9 L280.0,280.2 L281.0,278.9 L282.0,276.7 L283.0,273.5 L284.0,270.0 L285.0,266.2 L286.0,262.4 L287.0,258.4 L288.0,254.1 L289.0,249.9 L290.0,245.6 L291.0,241.4 L292.0,237.1 L293.0,232.7 L294.0,227.5 L295.0,221.9 L296.0,216.5 L297.0,211.7 L298.0,207.4 L299.0,203.1 L300.0,198.8 L301.0,194.0 L302.0,188.6 L303.0,183.6 L304.0,179.1 L305.0,174.9 L306.0,171.1 L307.0,167.7 L308.0,164.7 L309.0,162.0 L310.0,159.6 L311.0,157.3 L312.0,155.2 L313.0,153.1 L314.0,151.1 L315.0,149.3 L316.0,147.6 L317.0,146.2 L318.0,145.0 L319.0,143.9 L320.0,143.0 L321.0,142.4 L322.0,141.9 L323.0,141.7 L324.0,141.7 L325.0,142.1 L326.0,142.9 L327.0,144.0 L328.0,145.5 L329.0,147.6 L330.0,150.3 L331.0,153.5 L332.0,156.9 L333.0,161.0 L334.0,167.7 L335.0,172.8 L336.0,176.9 L337.0,181.2 L338.0,186.6 L339.0,192.9 L340.0,199.4 L341.0,205.6 L342.0,211.6 L343.0,217.1 L344.0,222.1 L345.0,226.9 L346.0,232.2 L347.0,237.6 L348.0,243.0 L349.0,248.6 L350.0,254.2 L351.0,259.7 L352.0,264.5 L353.0,268.7 L354.0,272.3 L355.0,275.5 L356.0,278.5 L357.0,281.3 L358.0,284.0 L359.0,286.7 L360.0,289.3 L361.0,291.8 L362.0,294.1 L363.0,296.3 L364.0,298.2 L365.0,299.9 L366.0,301.2 L367.0,302.2 L368.0,302.9 L369.0,303.5 L370.0,303.9 L371.0,304.2 L372.0,304.2 L373.0,304.1 L374.0,303.9 L375.0,303.5 L376.0,302.8 L377.0,301.7 L378.0,300.4 L379.0,298.8 L380.0,297.0 L381.0,295.0 L382.0,293.0 L383.0,291.0 L384.0,289.2 L385.0,287.6 L386.0,286.0 L387.0,284.3 L388.0,282.4 L389.0,280.5 L390.0,278.6 L391.0,276.7 L392.0,274.7 L393.0,272.7 L394.0,270.5 L395.0,268.5 L396.0,266.8 L397.0,265.2 L398.0,263.9 L399.0,262.8 L400.0,262.0 L401.0,261.3 L402.0,260.8 L403.0,260.4 L404.0,260.1 L405.0,259.9 L406.0,259.9 L407.0,260.0 L408.0,260.3 L409.0,260.8 L410.0,261.7 L411.0,262.5 L412.0,263.4 L413.0,264.2 L414.0,265.1 L415.0,265.9 L416.0,266.7 L417.0,267.5 L418.0,268.3 L419.0,269.1 L420.0,270.0 L421.0,270.9 L422.0,271.7 L423.0,272.6 L424.0,273.3 L425.0,274.1 L426.0,274.9 L427.0,275.8 L428.0,276.6 L429.0,277.3 L430.0,278.2 L431.0,279.6 L432.0,280.9 L433.0,282.3 L434.0,283.7 L435.0,285.0 L436.0,286.3 L437.0,287.5 L438.0,288.6 L439.0,289.7 L440.0,290.8 L441.0,292.1 L442.0,293.4 L443.0,294.7 L444.0,296.1 L445.0,297.5 L446.0,298.9 L447.0,300.4 L448.0,301.9 L449.0,303.4 L450.0,304.8 L451.0,306.3 L452.0,307.9 L453.0,309.4 L454.0,310.9 L455.0,312.4 L456.0,313.9 L457.0,315.4 L458.0,316.9 L459.0,318.4 L460.0,319.9 L461.0,321.4 L462.0,322.8 L463.0,324.4 L464.0,325.9 L465.0,327.4 L466.0,329.5 L467.0,331.2 L468.0,332.7 L469.0,334.1 L470.0,335.4 L471.0,336.6 L472.0,337.9 L473.0,339.1 L474.0,340.3 L475.0,341.5 L476.0,342.6 L477.0,343.8 L478.0,344.8 L479.0,345.7 L480.0,346.6 L481.0,347.3 L482.0,348.1 L483.0,348.7 L484.0,349.4 L485.0,350.0 L486.0,350.5 L487.0,351.0 L488.0,351.4 L489.0,351.8 L490.0,352.2 L491.0,352.6 L492.0,353.0 L493.0,353.3 L494.0,353.6 L495.0,353.8 L496.0,354.0 L497.0,354.3 L498.0,354.5 L499.0,354.7 L500.0,355.0 L501.0,355.2 L502.0,355.4 L503.0,355.6 L504.0,355.8 L505.0,356.0 L506.0,356.2 L507.0,356.4 L508.0,356.6 L509.0,356.7 L510.0,356.9 L511.0,357.1 L512.0,357.2 L513.0,357.4 L514.0,357.6 L515.0,357.8 L516.0,358.0 L517.0,358.2 L518.0,358.4 L519.0,358.6 L520.0,358.7 L521.0,358.9 L522.0,359.0 L523.0,359.2 L524.0,359.3 L525.0,359.5 L526.0,359.7 L527.0,359.8 L528.0,360.0 L528.8,360.1" fill="none" stroke="#0000ff" stroke-width="1.95" stroke-linejoin="round"/>
<path d="M64.0,359.8 L75.0,359.0 L82.3,357.3 L85.0,356.1 L88.3,354.4 L91.5,351.7 L94.8,348.4 L97.0,346.8 L99.2,345.2 L102.4,343.0 L105.7,341.4 L109.0,340.6 L112.3,341.1 L115.5,342.4 L118.8,342.3 L122.1,341.9 L124.8,341.1 L127.0,338.6 L129.2,335.2 L131.3,330.5 L133.0,325.4 L134.6,320.5 L137.2,313.4 L140.4,302.5 L141.6,299.5 L144.4,291.1 L147.1,283.8 L149.4,279.3 L150.7,275.6 L153.0,274.7 L154.8,271.5 L157.5,270.8 L160.7,271.1 L162.1,273.8 L163.5,279.3 L164.4,283.8 L166.2,287.5 L168.5,290.2 L170.7,292.0 L173.0,293.8 L174.4,296.5 L176.2,297.2 L178.0,294.7 L179.8,288.4 L181.6,280.2 L183.5,272.0 L185.3,264.7 L187.1,255.0 L189.2,244.3 L192.3,224.2 L195.3,206.1 L198.3,194.0 L199.6,188.9 L201.2,178.6 L202.8,178.0 L204.7,167.8 L206.6,166.5 L208.5,160.2 L211.1,159.5 L212.1,156.4 L213.4,155.1 L214.7,159.5 L216.2,159.9 L217.5,157.9 L218.7,160.2 L219.7,166.5 L221.9,167.8 L223.2,174.2 L224.8,181.8 L225.7,184.4 L226.4,188.9 L226.9,200.0 L227.9,206.4 L229.2,212.7 L230.5,219.1 L231.1,225.5 L232.4,229.3 L234.3,229.9 L235.5,234.4 L236.8,236.9 L238.3,238.2 L239.1,243.3 L240.4,247.1 L241.3,250.3 L241.9,249.0 L243.2,248.4 L245.1,249.6 L246.0,247.1 L247.0,240.7 L248.3,235.6 L249.5,230.5 L250.8,222.9 L252.1,216.5 L253.4,210.2 L254.6,203.8 L255.6,200.0 L257.2,188.2 L258.2,177.4 L259.4,175.5 L260.3,166.5 L260.8,160.0 L261.4,154.7 L262.0,151.8 L263.1,152.5 L264.2,148.9 L264.9,145.3 L265.6,139.5 L266.6,138.7 L267.3,135.8 L268.1,134.8 L268.8,139.6 L269.5,138.0 L270.1,133.0 L270.6,129.5 L271.4,125.9 L272.5,124.5 L273.3,127.4 L274.1,133.2 L275.0,134.6 L276.1,131.4 L276.9,132.8 L277.7,138.3 L278.5,144.3 L279.7,145.6 L280.4,138.7 L281.1,137.4 L281.8,141.7 L282.9,147.5 L284.0,146.1 L284.7,139.5 L285.8,136.6 L286.9,137.0 L287.6,141.7 L288.7,146.8 L289.8,147.5 L290.5,141.0 L291.6,135.9 L292.7,136.6 L293.5,141.0 L294.5,145.4 L295.6,146.1 L296.4,139.5 L297.1,135.2 L298.2,134.1 L299.1,138.1 L299.6,143.9 L300.7,149.0 L301.8,146.1 L302.7,145.4 L303.6,146.8 L304.4,151.9 L305.5,155.0 L306.7,162.3 L307.4,164.9 L307.9,167.0 L308.4,171.4 L310.4,179.0 L312.4,187.5 L313.4,194.0 L315.9,215.0 L317.2,221.4 L319.1,227.7 L320.4,234.1 L321.6,240.5 L323.5,242.4 L324.8,245.5 L326.1,248.7 L327.4,253.2 L329.0,258.9 L331.2,259.5 L332.5,262.1 L334.1,264.0 L335.4,259.5 L336.9,253.2 L338.8,252.5 L340.7,251.9 L342.0,248.7 L342.6,242.4 L344.5,239.2 L345.8,231.5 L347.1,227.7 L347.7,221.4 L348.6,217.5 L349.4,215.9 L351.9,214.6 L353.2,211.5 L354.1,208.9 L355.1,199.4 L356.6,198.1 L357.9,202.5 L359.5,203.2 L360.8,198.7 L362.7,195.2 L364.3,198.1 L365.5,205.7 L367.2,206.4 L368.5,200.6 L370.1,201.3 L371.6,207.6 L373.5,212.1 L375.2,206.4 L376.7,205.1 L378.3,211.5 L379.9,215.9 L381.8,212.1 L383.3,211.5 L384.6,217.8 L386.3,223.5 L388.4,224.8 L390.5,223.5 L392.0,226.7 L392.9,232.6 L395.5,234.5 L397.4,232.0 L398.6,235.8 L399.9,240.9 L400.5,245.0 L402.3,246.4 L404.1,245.9 L405.9,246.8 L406.8,250.5 L407.7,254.1 L409.1,257.7 L410.9,260.5 L412.7,261.8 L413.6,265.0 L414.5,269.5 L415.9,273.2 L417.7,275.9 L419.1,278.6 L420.5,283.0 L421.5,284.9 L423.3,287.7 L425.2,292.2 L427.7,294.1 L429.6,298.5 L431.5,304.3 L434.1,308.7 L436.0,313.2 L437.9,317.0 L439.8,322.7 L442.4,325.3 L444.9,327.9 L450.0,334.8 L454.0,338.5 L458.2,341.4 L462.0,341.0 L464.5,341.9 L466.5,342.5 L468.4,341.3 L470.9,341.0 L474.7,340.6 L477.3,339.4 L479.2,337.5 L481.1,336.8 L484.3,337.2 L487.5,336.8 L490.0,336.4 L492.5,337.2 L493.8,339.4 L496.4,340.6 L498.9,341.5 L500.2,343.2 L502.7,344.8 L505.3,347.0 L507.8,348.9 L510.4,350.8 L512.9,352.7 L515.5,354.3 L518.0,355.9 L520.5,357.2 L523.1,358.1 L525.6,358.8 L528.8,359.3" fill="none" stroke="#000000" stroke-width="2.1" stroke-linejoin="round"/>
<path d="M64.0,359.6 L74.8,357.1 L82.3,354.2 L89.7,349.0 L95.6,346.3 L101.5,346.3 L107.5,346.0 L113.4,342.3 L119.3,332.6 L123.8,323.7 L128.3,317.1 L132.7,313.4 L137.4,311.4 L144.8,312.9 L150.0,314.4 L153.5,313.8 L157.4,309.9 L161.2,299.5 L164.4,280.9 L166.9,270.0 L169.5,258.5 L171.4,249.6 L173.3,243.3 L174.5,240.7 L176.1,239.7 L177.7,236.9 L179.6,237.5 L181.5,237.2 L183.5,238.8 L185.4,239.5 L187.4,241.6 L190.3,244.8 L192.6,250.3 L194.9,257.2 L197.2,264.1 L199.5,270.5 L201.8,275.6 L204.1,279.7 L206.4,281.6 L208.7,280.2 L211.0,275.6 L212.8,269.9 L214.5,263.0 L216.2,254.9 L217.9,246.9 L219.7,240.0 L221.0,231.8 L222.2,222.9 L224.1,211.5 L226.0,200.0 L227.0,188.9 L228.9,174.2 L230.8,161.5 L232.5,151.9 L234.6,150.6 L236.3,143.0 L238.5,142.4 L239.3,147.5 L240.4,146.8 L241.4,140.5 L242.7,141.1 L243.5,146.2 L244.8,145.5 L246.1,143.0 L247.4,148.7 L249.3,151.3 L250.8,152.5 L251.8,161.5 L253.7,169.1 L255.6,179.3 L257.5,188.9 L258.5,200.0 L260.4,210.2 L262.3,221.6 L264.2,233.1 L266.1,243.3 L268.0,252.9 L268.7,257.9 L271.2,268.1 L273.7,275.7 L276.2,279.5 L278.1,280.2 L280.0,278.9 L281.9,275.1 L283.8,268.1 L285.9,259.2 L288.0,250.3 L290.0,241.4 L291.4,235.0 L294.8,215.0 L298.5,196.0 L300.6,185.0 L303.3,174.4 L304.3,168.9 L306.2,160.5 L308.7,154.2 L310.6,148.5 L313.2,147.2 L314.8,140.2 L316.1,137.6 L318.3,137.0 L319.5,132.5 L320.8,130.6 L322.1,126.8 L323.0,125.5 L324.0,130.0 L325.5,131.3 L327.2,130.6 L328.5,131.9 L329.3,136.4 L331.0,139.5 L332.3,144.0 L333.5,147.8 L334.8,154.2 L336.1,160.5 L337.4,168.9 L339.2,186.0 L341.7,202.5 L343.9,215.0 L346.5,229.0 L349.0,243.0 L351.5,257.0 L354.1,267.9 L358.9,284.3 L364.6,298.0 L367.5,301.6 L370.8,302.8 L373.6,302.4 L376.0,300.8 L379.4,295.3 L382.9,288.4 L385.5,283.0 L387.3,279.5 L389.1,278.6 L390.5,274.1 L392.3,271.4 L393.6,266.8 L395.9,264.5 L396.8,261.4 L398.6,258.6 L400.5,256.4 L402.7,255.9 L404.5,254.5 L406.8,253.6 L409.1,255.0 L410.9,256.8 L412.7,257.7 L414.5,259.5 L416.4,260.0 L418.2,262.3 L420.0,265.5 L421.8,266.4 L423.6,268.2 L425.5,268.6 L427.3,271.4 L430.0,274.1 L431.7,276.5 L433.6,278.5 L435.5,281.0 L437.5,282.3 L441.1,287.1 L443.0,291.5 L445.5,294.1 L448.1,298.5 L450.0,301.7 L451.9,306.2 L454.5,309.4 L457.0,313.2 L459.5,317.0 L462.7,321.5 L467.2,327.9 L469.6,333.6 L473.5,338.7 L477.3,343.2 L481.1,346.4 L484.9,348.9 L488.7,350.8 L493.8,352.7 L500.2,354.4 L506.5,355.7 L512.9,356.8 L519.3,358.1 L525.6,359.3 L528.8,360.0" fill="none" stroke="#00ff00" stroke-width="2.1" stroke-linejoin="round"/>
<rect x="64.5" y="15.7" width="464.5" height="344.90000000000003" fill="none" stroke="#1c1c1c" stroke-width="1.9"/>
<path d="M64.50,360.6 v-4.6 M64.50,15.7 v4.6 M83.08,360.6 v-1.9 M83.08,15.7 v1.9 M101.66,360.6 v-1.9 M101.66,15.7 v1.9 M120.24,360.6 v-1.9 M120.24,15.7 v1.9 M138.82,360.6 v-1.9 M138.82,15.7 v1.9 M157.40,360.6 v-4.6 M157.40,15.7 v4.6 M175.98,360.6 v-1.9 M175.98,15.7 v1.9 M194.56,360.6 v-1.9 M194.56,15.7 v1.9 M213.14,360.6 v-1.9 M213.14,15.7 v1.9 M231.72,360.6 v-1.9 M231.72,15.7 v1.9 M250.30,360.6 v-4.6 M250.30,15.7 v4.6 M268.88,360.6 v-1.9 M268.88,15.7 v1.9 M287.46,360.6 v-1.9 M287.46,15.7 v1.9 M306.04,360.6 v-1.9 M306.04,15.7 v1.9 M324.62,360.6 v-1.9 M324.62,15.7 v1.9 M343.20,360.6 v-4.6 M343.20,15.7 v4.6 M361.78,360.6 v-1.9 M361.78,15.7 v1.9 M380.36,360.6 v-1.9 M380.36,15.7 v1.9 M398.94,360.6 v-1.9 M398.94,15.7 v1.9 M417.52,360.6 v-1.9 M417.52,15.7 v1.9 M436.10,360.6 v-4.6 M436.10,15.7 v4.6 M454.68,360.6 v-1.9 M454.68,15.7 v1.9 M473.26,360.6 v-1.9 M473.26,15.7 v1.9 M491.84,360.6 v-1.9 M491.84,15.7 v1.9 M510.42,360.6 v-1.9 M510.42,15.7 v1.9 M529.00,360.6 v-4.6 M529.00,15.7 v4.6 M64.5,360.60 h4.6 M529.0,360.60 h-4.6 M64.5,337.61 h1.9 M529.0,337.61 h-1.9 M64.5,314.61 h1.9 M529.0,314.61 h-1.9 M64.5,291.62 h1.9 M529.0,291.62 h-1.9 M64.5,268.63 h1.9 M529.0,268.63 h-1.9 M64.5,245.63 h4.6 M529.0,245.63 h-4.6 M64.5,222.64 h1.9 M529.0,222.64 h-1.9 M64.5,199.65 h1.9 M529.0,199.65 h-1.9 M64.5,176.65 h1.9 M529.0,176.65 h-1.9 M64.5,153.66 h1.9 M529.0,153.66 h-1.9 M64.5,130.67 h4.6 M529.0,130.67 h-4.6 M64.5,107.67 h1.9 M529.0,107.67 h-1.9 M64.5,84.68 h1.9 M529.0,84.68 h-1.9 M64.5,61.69 h1.9 M529.0,61.69 h-1.9 M64.5,38.69 h1.9 M529.0,38.69 h-1.9 M64.5,15.70 h4.6 M529.0,15.70 h-4.6" stroke="#1c1c1c" stroke-width="1.5" fill="none"/>
<path d="M110.4,41.1 H142.6" stroke="#ff0000" stroke-width="1.9"/>
<path d="M110.4,61.5 H142.6" stroke="#0000ff" stroke-width="1.9"/>
<path d="M110.4,82.7 H142.6" stroke="#000000" stroke-width="1.9"/>
<path d="M110.4,103.5 H142.6" stroke="#00ff00" stroke-width="1.9"/>
<text x="64.0" y="385.0"  font-size="16.9" fill="#262626" text-anchor="middle">400</text>
<text x="156.9" y="385.0"  font-size="16.9" fill="#262626" text-anchor="middle">500</text>
<text x="249.8" y="385.0"  font-size="16.9" fill="#262626" text-anchor="middle">600</text>
<text x="342.7" y="385.0"  font-size="16.9" fill="#262626" text-anchor="middle">700</text>
<text x="435.6" y="385.0"  font-size="16.9" fill="#262626" text-anchor="middle">800</text>
<text x="528.5" y="385.0"  font-size="16.9" fill="#262626" text-anchor="middle">900</text>
<text x="58.1" y="367.0"  font-size="16.9" fill="#262626" text-anchor="end">0</text>
<text x="58.1" y="252.0"  font-size="16.9" fill="#262626" text-anchor="end">0.5</text>
<text x="58.1" y="137.1"  font-size="16.9" fill="#262626" text-anchor="end">1</text>
<text x="58.1" y="22.1"  font-size="16.9" fill="#262626" text-anchor="end">1.5</text>
<text x="296.2" y="408.0"  font-size="18.4" font-weight="bold" fill="#262626" text-anchor="middle">wavelength, nm</text>
<text transform="translate(26.3,187.7) rotate(-90)"  font-size="18.7" font-weight="bold" fill="#262626" text-anchor="middle">intensity, a.u.</text>
<text x="145.3" y="45.7"  font-size="13.0" fill="#000">MOW with a buffer layer, smoothed</text>
<text x="145.3" y="64.0"  font-size="13.0" fill="#000">MOW coated with 1 layer 300-nm SiO<tspan dy="5.5" font-size="10">2</tspan><tspan dy="-5.5"> spheres, smoothed</tspan></text>
<text x="145.3" y="87.6"  font-size="13.0" fill="#000">MOW with a buffer layer, measured</text>
<text x="145.3" y="105.4"  font-size="13.0" fill="#000">MOW coated with 1 layer 300-nm SiO<tspan dy="5.5" font-size="10">2</tspan><tspan dy="-5.5"> spheres, measured</tspan></text>
</svg>
</body></html>
